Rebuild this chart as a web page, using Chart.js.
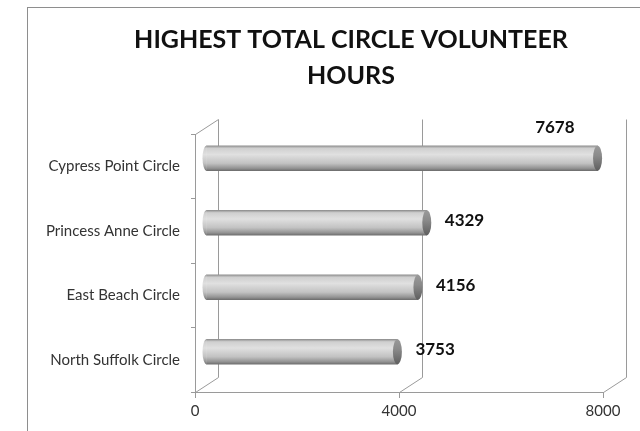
<!DOCTYPE html>
<html>
<head>
<meta charset="utf-8">
<script src="https://cdn.jsdelivr.net/npm/chart.js@4/dist/chart.umd.min.js"></script>
<style>
    html, body { margin: 0; padding: 0; background: #fff; overflow: hidden; }
    #marco { position: absolute; left: 27px; top: 7px; width: 700px; height: 500px;
             border-left: 1px solid #8e8e8e; border-top: 1px solid #8e8e8e; }
    #grafico { position: absolute; left: 0; top: 0; }
</style>
</head>
<body>
<div id="marco"></div>
<canvas id="grafico" width="640" height="431"></canvas>
<script>
// Datos del grafico
const categorias = ["Cypress Point Circle", "Princess Anne Circle", "East Beach Circle", "North Suffolk Circle"];
const horas = [7678, 4329, 4156, 3753];
const ticksEjeX = [0, 4000, 8000];
const tituloLineas = ["HIGHEST TOTAL CIRCLE VOLUNTEER", "HOURS"];

// Efecto 3D: desplazamiento de la pared del fondo y de las barras
const fondo = { dx: 23, dy: -15 };
const medio = { dx: 11, dy: -8 };
const grosorBarra = 25;
const colorLineas = "#9a9a9a";

// Degradado vertical tipo cilindro
function rellenoCilindro(contexto) {
    const { ctx, chartArea, scales } = contexto.chart;
    if (!chartArea) return "#c4c4c4";
    const yc = scales.y.getPixelForValue(contexto.dataIndex);
    const g = ctx.createLinearGradient(0, yc - grosorBarra / 2, 0, yc + grosorBarra / 2);
    g.addColorStop(0, "#8e8e8e");
    g.addColorStop(0.1, "#cfcfcf");
    g.addColorStop(0.35, "#e0e0e0");
    g.addColorStop(0.7, "#c2c2c2");
    g.addColorStop(0.9, "#939393");
    g.addColorStop(1, "#6e6e6e");
    return g;
}

function rellenoTapa(ctx, yc) {
    const g = ctx.createLinearGradient(0, yc - grosorBarra / 2, 0, yc + grosorBarra / 2);
    g.addColorStop(0, "#9a9a9a");
    g.addColorStop(0.4, "#8a8a8a");
    g.addColorStop(1, "#5e5e5e");
    return g;
}

// Pared del fondo y lineas de profundidad
const pluginProfundidad = {
    id: "profundidad",
    beforeDatasetsDraw(chart) {
        const ctx = chart.ctx;
        const { left, top, bottom } = chart.chartArea;
        const ejeX = chart.scales.x;
        ctx.save();
        ctx.strokeStyle = colorLineas;
        ctx.lineWidth = 1;
        ctx.beginPath();
        ctx.moveTo(Math.round(left) + 0.5, Math.round(top) + 0.5);
        ctx.lineTo(Math.round(left + fondo.dx) + 0.5, Math.round(top + fondo.dy) + 0.5);
        ticksEjeX.forEach(v => {
            const px = Math.round(ejeX.getPixelForValue(v)) + 0.5;
            ctx.moveTo(px, Math.round(bottom) + 0.5);
            ctx.lineTo(px + fondo.dx, Math.round(bottom + fondo.dy) + 0.5);
            ctx.lineTo(px + fondo.dx, Math.round(top + fondo.dy) + 0.5);
        });
        ctx.stroke();
        ctx.restore();

        // las barras van a media profundidad
        ctx.save();
        ctx.translate(medio.dx, medio.dy);
    },
    afterDatasetsDraw(chart) {
        const ctx = chart.ctx;
        const meta = chart.getDatasetMeta(0);
        meta.data.forEach(barra => {
            const r = grosorBarra / 2;
            // extremo izquierdo redondeado
            ctx.beginPath();
            ctx.ellipse(barra.base, barra.y, 4, r, 0, Math.PI / 2, Math.PI * 1.5);
            ctx.fillStyle = barra.options.backgroundColor;
            ctx.fill();
            // tapa del extremo derecho
            ctx.beginPath();
            ctx.ellipse(barra.x, barra.y, 4.5, r, 0, 0, Math.PI * 2);
            ctx.fillStyle = rellenoTapa(ctx, barra.y);
            ctx.fill();
        });
        ctx.restore();

        // etiquetas de valor
        ctx.save();
        ctx.font = "bold 17px Lato";
        ctx.fillStyle = "#111";
        ctx.textBaseline = "middle";
        meta.data.forEach((barra, i) => {
            const texto = String(horas[i]);
            const ancho = ctx.measureText(texto).width;
            let xt = barra.x + medio.dx + 18;
            let yt = barra.y + medio.dy - 2;
            ctx.textAlign = "left";
            if (xt + ancho > chart.width - 8) {
                // no cabe a la derecha: encima de la barra
                ctx.textAlign = "right";
                xt = barra.x + medio.dx - 23;
                yt = barra.y + medio.dy - 31;
            }
            ctx.fillText(texto, xt, yt);
        });
        ctx.restore();
    }
};

// Titulo centrado sobre el marco
const pluginTitulo = {
    id: "tituloMarco",
    afterDraw(chart) {
        const ctx = chart.ctx;
        ctx.save();
        ctx.font = "bold 25px Lato";
        ctx.fillStyle = "#111";
        ctx.textAlign = "center";
        ctx.textBaseline = "middle";
        ctx.fillText(tituloLineas[0], 351, 40);
        ctx.fillText(tituloLineas[1], 351, 76);
        ctx.restore();
    }
};

function crearGrafico() {
    new Chart(document.getElementById("grafico").getContext("2d"), {
        type: "bar",
        data: {
            labels: categorias,
            datasets: [{
                label: "Hours",
                data: horas,
                backgroundColor: rellenoCilindro,
                borderWidth: 0,
                barThickness: grosorBarra
            }]
        },
        options: {
            indexAxis: "y",
            responsive: false,
            animation: false,
            devicePixelRatio: 1,
            layout: { padding: { top: 134, right: 37, left: 0, bottom: 0 } },
            plugins: {
                legend: { display: false },
                title: { display: false },
                tooltip: { enabled: false }
            },
            scales: {
                x: {
                    min: 0,
                    max: 8000,
                    afterBuildTicks: s => { s.ticks = ticksEjeX.map(v => ({ value: v })); },
                    afterFit: s => { s.height = 39; },
                    grid: { drawOnChartArea: false, tickLength: 6, color: colorLineas },
                    border: { color: colorLineas },
                    ticks: {
                        font: { family: "Lato", size: 15 }, color: "#333", padding: 4, maxRotation: 0,
                        callback: v => String(v)
                    }
                },
                y: {
                    afterFit: s => { s.width = 195; },
                    grid: { drawOnChartArea: false, tickLength: 4, color: colorLineas },
                    border: { color: colorLineas },
                    ticks: { font: { family: "Lato", size: 15 }, color: "#333", padding: 11 }
                }
            }
        },
        plugins: [pluginProfundidad, pluginTitulo]
    });
}

Promise.all([
    document.fonts.load("bold 25px Lato"),
    document.fonts.load("15px Lato")
]).then(crearGrafico, crearGrafico);
</script>
</body>
</html>
